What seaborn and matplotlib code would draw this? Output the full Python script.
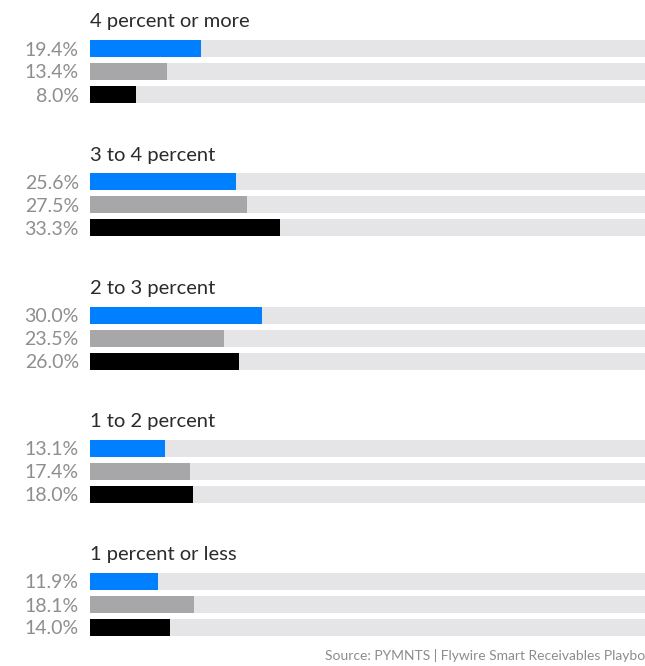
import matplotlib
matplotlib.use("Agg")
import matplotlib.pyplot as plt
import seaborn as sns
import pandas as pd

# Bucket titles and the three series values (percent of respondents)
categories = ["4 percent or more", "3 to 4 percent", "2 to 3 percent",
              "1 to 2 percent", "1 percent or less"]
series_names = ["Series A", "Series B", "Series C"]
series_a = [19.4, 25.6, 30.0, 13.1, 11.9]
series_b = [13.4, 27.5, 23.5, 17.4, 18.1]
series_c = [8.0, 33.3, 26.0, 18.0, 14.0]
track_value = 100.0
source_text = "Source: PYMNTS | Flywire Smart Receivables Playbook"

colors = ["#0080ff", "#a7a7aa", "#000000"]
track_color = "#e5e5e7"
label_color = "#8e8e8e"
title_color = "#2b2b2b"

sns.set_theme(style="white")
plt.rcParams["font.family"] = ["Lato", "DejaVu Sans"]

W, H = 645, 666
fig = plt.figure(figsize=(W / 100, H / 100), dpi=100)

left_px, right_px = 90, 645
slot_px, bar_px = 23, 17
first_top_px, group_step_px = 37, 133.25
px_per_unit = 5.72

for i, title in enumerate(categories):
    values = [series_a[i], series_b[i], series_c[i]]
    df = pd.DataFrame({"series": series_names, "value": values,
                       "track": [track_value] * 3})
    top = first_top_px + i * group_step_px
    ax = fig.add_axes([left_px / W, 1 - (top + 3 * slot_px) / H,
                       (right_px - left_px) / W, 3 * slot_px / H])
    # full-width background track, then the value bars on top
    sns.barplot(data=df, y="series", x="track", color=track_color,
                width=bar_px / slot_px, linewidth=0, saturation=1, ax=ax)
    sns.barplot(data=df, y="series", x="value", hue="series",
                palette=colors, width=bar_px / slot_px, linewidth=0,
                saturation=1, legend=False, ax=ax)
    ax.set_xlim(0, (right_px - left_px) / px_per_unit)
    ax.set_ylim(2.5, -0.5)
    ax.set_yticks(range(3))
    ax.set_yticklabels([f"{v:.1f}%" for v in values], fontsize=14,
                       color=label_color)
    ax.tick_params(axis="y", length=0, pad=8)
    ax.set_xticks([])
    ax.set_xlabel("")
    ax.set_ylabel("")
    for s in ax.spines.values():
        s.set_visible(False)
    ax.set_title(title, loc="left", fontsize=14.5, color=title_color, pad=7)

fig.text(325 / W, 1 - 656 / H, source_text, ha="left", va="center",
         fontsize=10, color="#8c8c8c")

fig.savefig("out.png", dpi=100)
